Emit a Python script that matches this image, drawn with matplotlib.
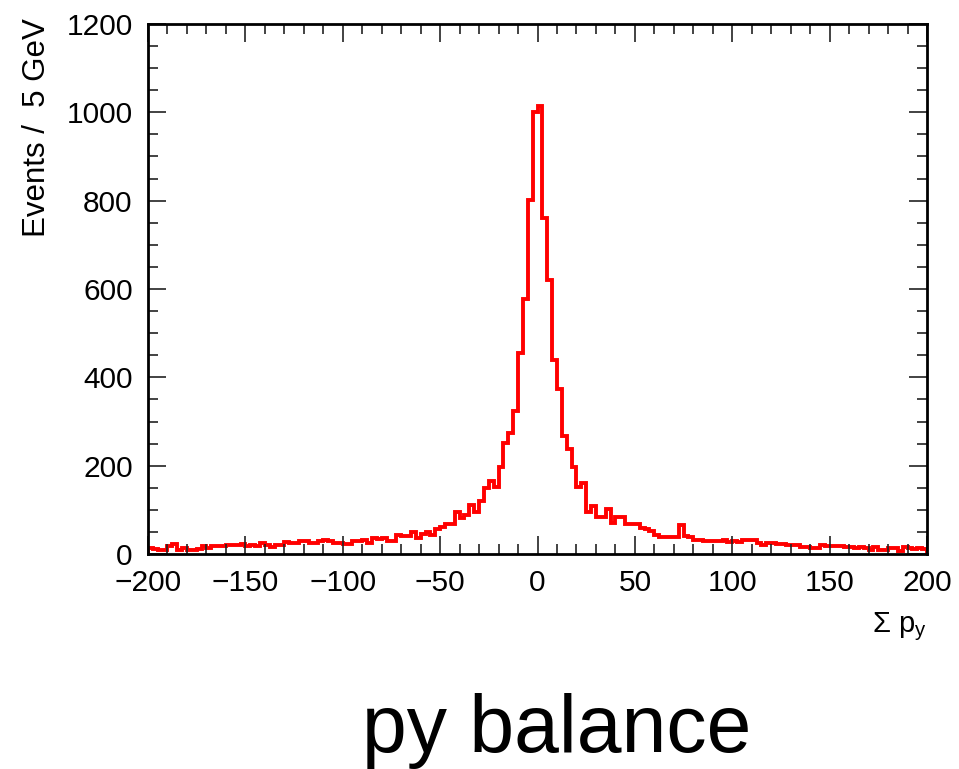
import numpy as np
import matplotlib.pyplot as plt

plt.rcParams['font.family'] = ['Liberation Sans', 'DejaVu Sans']
plt.rcParams['mathtext.default'] = 'regular'

# bin edges of the histogram, 160 bins from -200 to 200
x_low, x_high, n_bins = -200, 200, 160

# events per bin (left to right)
counts = [
    13, 11, 9, 9, 17, 22, 10, 14, 9, 9,
    12, 17, 14, 19, 17, 18, 20, 20, 21, 22,
    17, 20, 19, 25, 20, 16, 21, 20, 27, 24,
    24, 29, 29, 24, 24, 30, 31, 29, 24, 25,
    22, 23, 30, 29, 31, 26, 36, 35, 37, 29,
    30, 42, 41, 40, 50, 36, 46, 50, 43, 57,
    62, 69, 69, 94, 81, 88, 111, 94, 119, 150,
    166, 152, 198, 251, 273, 324, 456, 577, 801, 1001,
    1014, 760, 620, 439, 373, 267, 237, 198, 152, 161,
    96, 109, 83, 83, 103, 71, 83, 84, 69, 68,
    68, 60, 57, 51, 43, 39, 39, 39, 39, 66,
    41, 38, 32, 32, 30, 30, 30, 30, 32, 28,
    29, 27, 31, 32, 32, 24, 21, 25, 24, 23,
    22, 21, 20, 20, 15, 16, 13, 14, 20, 19,
    18, 19, 17, 16, 15, 14, 15, 13, 9, 16,
    9, 8, 13, 14, 6, 16, 13, 12, 13, 11,
]

edges = np.linspace(x_low, x_high, n_bins + 1)

fig = plt.figure(figsize=(9.59, 7.69), dpi=100)
ax = fig.add_axes([148/959, 1 - 554/769, 779/959, 530/769])

ax.stairs(counts, edges, color='red', lw=2.8, baseline=0)

ax.set_xlim(x_low, x_high)
ax.set_ylim(0, 1200)
ax.set_xticks(np.arange(-200, 201, 50))
ax.set_xticks(np.arange(-200, 201, 10), minor=True)
ax.set_yticks(np.arange(0, 1201, 200))
ax.set_yticks(np.arange(0, 1201, 50), minor=True)

ax.tick_params(which='both', direction='in', top=True, right=True,
               labelsize=21.5, width=1.2, color='#222222')
ax.tick_params(axis='x', which='major', length=13, pad=10.5)
ax.tick_params(axis='y', which='major', length=13, pad=11)
ax.tick_params(which='minor', length=7)
for s in ax.spines.values():
    s.set_linewidth(2)

fig.text(37/959, 1 - 18/769, 'Events /  5 GeV', rotation=90,
         ha='center', va='top', fontsize=22.5)
fig.text(927/959, 1 - 632/769, 'Σ p$_{y}$', ha='right', va='baseline',
         fontsize=21)
fig.text(557/959, 1 - 752/769, 'py balance', ha='center', va='baseline',
         fontsize=58)

fig.savefig('out.png', dpi=100)
